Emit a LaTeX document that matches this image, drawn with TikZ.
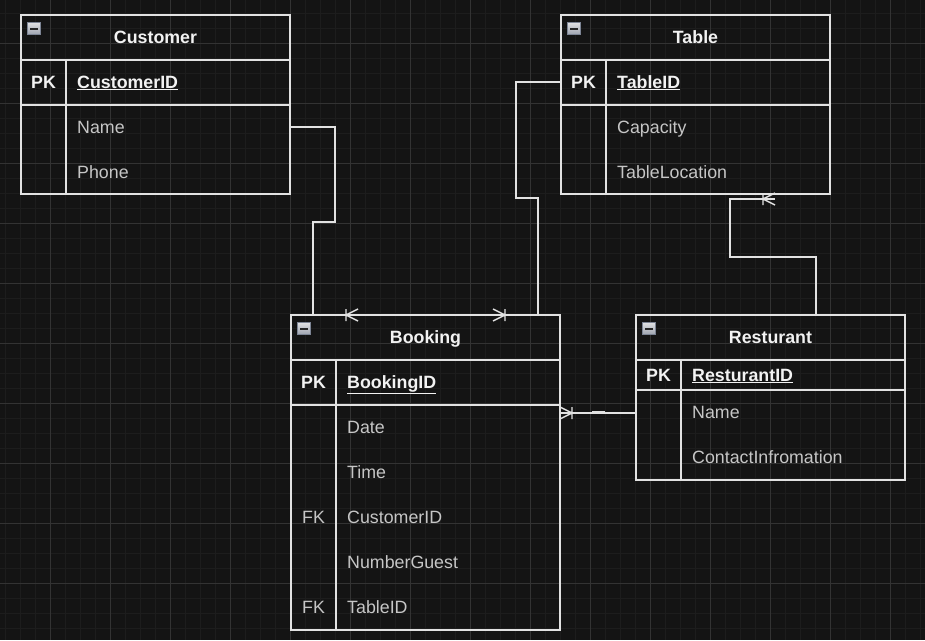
\documentclass[tikz,border=0pt]{standalone}
\usepackage{fontspec}
\setmainfont{Liberation Sans}
\usepackage{tikz}
\usetikzlibrary{calc}

\definecolor{bgcol}{HTML}{141414}
\definecolor{gridminor}{HTML}{1D1D1D}
\definecolor{gridmajor}{HTML}{333333}
\definecolor{lncol}{HTML}{E2E2E2}
\definecolor{titlecol}{HTML}{F2F2F2}
\definecolor{attrcol}{HTML}{C6C6C6}
\definecolor{icontop}{HTML}{E2E2E4}
\definecolor{iconbot}{HTML}{9CA2AE}
\definecolor{iconrim}{HTML}{7C8494}

\tikzset{
  entbox/.style={draw=lncol,line width=1.4pt,rectangle,inner sep=0pt,outer sep=0pt,
    minimum width=269pt,anchor=north west},
  entline/.style={draw=lncol,line width=1.4pt},
  rel/.style={draw=lncol,line width=1.4pt},
  title/.style={text=titlecol,font=\fontsize{17.8}{20}\selectfont\bfseries,anchor=base},
  keytxt/.style={text=titlecol,font=\fontsize{17.8}{20}\selectfont\bfseries,anchor=base},
  fktxt/.style={text=attrcol,font=\fontsize{17.8}{20}\selectfont,anchor=base},
  pkattr/.style={text=titlecol,font=\fontsize{17.8}{20}\selectfont\bfseries,anchor=base west,inner sep=0pt},
  attr/.style={text=attrcol,font=\fontsize{17.8}{20}\selectfont,anchor=base west,inner sep=0pt},
  minbox/.style={draw=iconrim,line width=0.9pt,top color=icontop,bottom color=iconbot,
    minimum size=12.5pt,inner sep=0pt,rectangle}
}

\begin{document}
\begin{tikzpicture}[x=1pt,y=-1pt,line join=miter]
\fill[bgcol] (0,0) rectangle (925,640);
\useasboundingbox (0,0) rectangle (925,640);
% grid
\foreach \x in {5,20,...,920} \draw[gridminor,line width=1pt] (\x,0) -- (\x,640);
\foreach \y in {13,28,...,638} \draw[gridminor,line width=1pt] (0,\y) -- (925,\y);
\foreach \x in {50,110,...,890} \draw[gridmajor,line width=1pt] (\x,0) -- (\x,640);
\foreach \y in {43,103,...,583} \draw[gridmajor,line width=1pt] (0,\y) -- (925,\y);

% Customer
\node[entbox,minimum height=179pt] (customer) at (21,15) {};
\draw[entline] ($(customer.north west)+(0,45)$) -- ($(customer.north east)+(0,45)$);
\draw[entline] ($(customer.north west)+(0,90)$) -- ($(customer.north east)+(0,90)$);
\draw[entline] ($(customer.north west)+(45,45)$) -- ($(customer.south west)+(45,0)$);
\node[minbox] (cusIcon) at ($(customer.north west)+(13,13.5)$) {\textcolor{black!85}{\rule{8pt}{2pt}}};
\node[title] (cusTitle) at ($(customer.north)+(0,28)$) {Customer};
\node[keytxt] (cusPK) at ($(customer.north west)+(22.5,73)$) {PK};
\node[pkattr] (cusID) at ($(customer.north west)+(56,73)$) {\underline{CustomerID}};
\node[attr] (cusName) at ($(customer.north west)+(56,118)$) {Name};
\node[attr] (cusPhone) at ($(customer.north west)+(56,163)$) {Phone};

% Table
\node[entbox,minimum height=179pt] (table) at (561,15) {};
\draw[entline] ($(table.north west)+(0,45)$) -- ($(table.north east)+(0,45)$);
\draw[entline] ($(table.north west)+(0,90)$) -- ($(table.north east)+(0,90)$);
\draw[entline] ($(table.north west)+(45,45)$) -- ($(table.south west)+(45,0)$);
\node[minbox] (tabIcon) at ($(table.north west)+(13,13.5)$) {\textcolor{black!85}{\rule{8pt}{2pt}}};
\node[title] (tabTitle) at ($(table.north)+(0,28)$) {Table};
\node[keytxt] (tabPK) at ($(table.north west)+(22.5,73)$) {PK};
\node[pkattr] (tabID) at ($(table.north west)+(56,73)$) {\underline{TableID}};
\node[attr] (tabCap) at ($(table.north west)+(56,118)$) {Capacity};
\node[attr] (tabLoc) at ($(table.north west)+(56,163)$) {TableLocation};

% Booking
\node[entbox,minimum height=315pt] (booking) at (291,315) {};
\draw[entline] ($(booking.north west)+(0,45)$) -- ($(booking.north east)+(0,45)$);
\draw[entline] ($(booking.north west)+(0,90)$) -- ($(booking.north east)+(0,90)$);
\draw[entline] ($(booking.north west)+(45,45)$) -- ($(booking.south west)+(45,0)$);
\node[minbox] (bokIcon) at ($(booking.north west)+(13,13.5)$) {\textcolor{black!85}{\rule{8pt}{2pt}}};
\node[title] (bokTitle) at ($(booking.north)+(0,28)$) {Booking};
\node[keytxt] (bokPK) at ($(booking.north west)+(22.5,73)$) {PK};
\node[pkattr] (bokID) at ($(booking.north west)+(56,73)$) {\underline{BookingID}};
\node[attr] (bokDate) at ($(booking.north west)+(56,118)$) {Date};
\node[attr] (bokTime) at ($(booking.north west)+(56,163)$) {Time};
\node[fktxt] (bokFK1) at ($(booking.north west)+(22.5,208)$) {FK};
\node[attr] (bokCus) at ($(booking.north west)+(56,208)$) {CustomerID};
\node[attr] (bokGuest) at ($(booking.north west)+(56,253)$) {NumberGuest};
\node[fktxt] (bokFK2) at ($(booking.north west)+(22.5,298)$) {FK};
\node[attr] (bokTab) at ($(booking.north west)+(56,298)$) {TableID};

% Resturant
\node[entbox,minimum height=165pt] (resturant) at (636,315) {};
\draw[entline] ($(resturant.north west)+(0,45)$) -- ($(resturant.north east)+(0,45)$);
\draw[entline] ($(resturant.north west)+(0,75)$) -- ($(resturant.north east)+(0,75)$);
\draw[entline] ($(resturant.north west)+(45,45)$) -- ($(resturant.south west)+(45,0)$);
\node[minbox] (resIcon) at ($(resturant.north west)+(13,13.5)$) {\textcolor{black!85}{\rule{8pt}{2pt}}};
\node[title] (resTitle) at ($(resturant.north)+(0,28)$) {Resturant};
\node[keytxt] (resPK) at ($(resturant.north west)+(22.5,66)$) {PK};
\node[pkattr] (resID) at ($(resturant.north west)+(56,66)$) {\underline{ResturantID}};
\node[attr] (resName) at ($(resturant.north west)+(56,103)$) {Name};
\node[attr] (resInfo) at ($(resturant.north west)+(56,148)$) {ContactInfromation};

% connectors
\draw[rel] ($(customer.north east)+(0,112)$) -- ++(45,0) -- ++(0,95) -| ($(booking.north west)+(22,0)$);
\draw[rel] ($(table.north west)+(0,67)$) -- ++(-45,0) -- ++(0,116) -| ($(booking.north east)+(-22,0)$);
\draw[rel] ($(resturant.north east)+(-89,0)$) |- ++(-86,-58) -- ++(0,-58) coordinate (tabEnd) -- ++(45,0);
\draw[rel] ($(resturant.north west)+(0,98)$) -- ($(booking.north east)+(0,98)$);
\draw[rel,line width=2pt] ($(resturant.north west)+(-44,96.5)$) -- ++(13,0);

% crow feet
\coordinate (mkA) at ($(booking.north west)+(55,0)$);
\coordinate (mkB) at ($(booking.north east)+(-55,0)$);
\coordinate (mkC) at ($(tabEnd)+(33,0)$);
\coordinate (mkD) at ($(booking.north east)+(12,98)$);
\draw[rel] ($(mkA)+(12,-6)$) -- (mkA) -- ($(mkA)+(12,6)$) ($(mkA)+(0,-6)$) -- ($(mkA)+(0,6)$);
\draw[rel] ($(mkB)+(-12,-6)$) -- (mkB) -- ($(mkB)+(-12,6)$) ($(mkB)+(0,-6)$) -- ($(mkB)+(0,6)$);
\draw[rel] ($(mkC)+(12,-6)$) -- (mkC) -- ($(mkC)+(12,6)$) ($(mkC)+(0,-6)$) -- ($(mkC)+(0,6)$);
\draw[rel] ($(mkD)+(-12,-6)$) -- (mkD) -- ($(mkD)+(-12,6)$) ($(mkD)+(0,-6)$) -- ($(mkD)+(0,6)$);
\end{tikzpicture}
\end{document}
